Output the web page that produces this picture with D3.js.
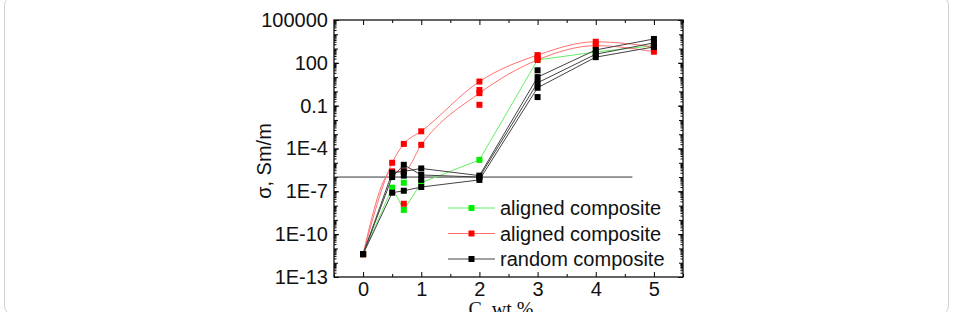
<!DOCTYPE html>
<html>
<head>
<meta charset="utf-8">
<script src="https://cdn.jsdelivr.net/npm/d3@7"></script>
<style>
  body { margin: 0; background: #fff; }
  svg { display: block; font-family: "Liberation Sans", Arial, sans-serif; }
</style>
</head>
<body>
<div class="Chart"></div>
<script>
// ---- data ----
var xTicks = [0, 1, 2, 3, 4, 5];
var xMinorTicks = [-0.5, 0.5, 1.5, 2.5, 3.5, 4.5, 5.5];
var yTickValues = [1e-13, 1e-10, 1e-7, 1e-4, 0.1, 100, 100000];
var yTickLabels = ["1E-13", "1E-10", "1E-7", "1E-4", "0.1", "100", "100000"];

// green: aligned composite (one curve)
var greenCurves = [
  [[0, 4e-12], [0.5, 1.8e-7], [0.7, 5e-9], [1, 4e-7], [2, 1.6e-5], [3, 160], [4, 575], [5, 1600]]
];
var greenExtra = [[0.7, 4e-7]];

// red: aligned composite (two curves)
var redCurves = [
  [[0, 4e-12], [0.5, 1e-5], [0.7, 2.1e-4], [1, 1.6e-3], [2, 4.9], [3, 350], [4, 3000], [5, 1300]],
  [[0, 4e-12], [0.5, 2.5e-6], [0.7, 2.5e-6], [1, 1.8e-4], [2, 0.75], [3, 160], [4, 1600], [5, 600]]
];
var redExtra = [[0.7, 1.35e-8], [2, 1.26], [2, 0.115], [3, 250]];

// black: random composite (three curves)
var blackCurves = [
  [[0, 4e-12], [0.5, 2e-6], [0.7, 2.5e-6], [1, 4e-6], [2, 1.26e-6], [3, 10], [4, 800], [5, 4700]],
  [[0, 4e-12], [0.5, 1e-6], [0.7, 7.2e-6], [1, 1.4e-6], [2, 1e-6], [3, 4], [4, 400], [5, 2500]],
  [[0, 4e-12], [0.5, 8e-8], [0.7, 1.1e-7], [1, 2e-7], [2, 6.3e-7], [3, 1.8], [4, 250], [5, 1300]]
];
var blackExtra = [[3, 30], [3, 0.4], [1, 6.3e-7], [0.7, 1.26e-6]];

// horizontal reference line
var refLine = [[-0.5, 1e-6], [4.63, 1e-6]];

var legendLabels = ["aligned composite", "aligned composite", "random composite"];
var legendColors = ["#00ee00", "#ff0000", "#000000"];
var lineColors = ["#66ee66", "#ff7070", "#444444"];

function drawChart() {
  var width = 953, height = 312;
  var plot = {left: 334, right: 683, top: 20, bottom: 277};

  var svg = d3.select(".Chart").append("svg")
              .attr("width", width)
              .attr("height", height);

  // outer rounded frame
  svg.append("rect")
     .attr("x", 4.5).attr("y", -4.5)
     .attr("width", 944).attr("height", 320)
     .attr("rx", 10).attr("ry", 10)
     .attr("fill", "none")
     .attr("stroke", "#cfcfcf");

  var x = d3.scaleLinear().domain([-0.5, 5.5]).range([plot.left, plot.right]);
  var y = d3.scaleLog().domain([1e-13, 1e5]).range([plot.bottom, plot.top]);

  // y minor ticks (2..9 per decade) and decade ticks
  var yMinor = [], yDecades = [];
  for (var e = -13; e < 5; e++) {
    for (var m = 2; m <= 9; m++) yMinor.push(m * Math.pow(10, e));
  }
  for (var e2 = -13; e2 <= 5; e2++) yDecades.push(Math.pow(10, e2));

  function addAxis(axis, tx, ty, cls) {
    var g = svg.append("g")
               .attr("class", cls)
               .attr("transform", "translate(" + tx + "," + ty + ")")
               .call(axis);
    g.select(".domain").remove();
    g.selectAll("line").attr("stroke", "#000");
    return g;
  }

  // left
  addAxis(d3.axisLeft(y).tickValues(yMinor).tickSize(-2.5).tickFormat(""), plot.left, 0, "ymin");
  addAxis(d3.axisLeft(y).tickValues(yDecades).tickSize(-4).tickFormat(""), plot.left, 0, "ydec");
  var yl = addAxis(d3.axisLeft(y).tickValues(yTickValues).tickSize(-5).tickPadding(6)
                     .tickFormat(function(d, i) { return yTickLabels[i]; }), plot.left, 0, "ylab");
  yl.selectAll("text").attr("font-size", 20).attr("fill", "#111");

  // right
  addAxis(d3.axisRight(y).tickValues(yMinor).tickSize(-2.5).tickFormat(""), plot.right, 0, "yminr");
  addAxis(d3.axisRight(y).tickValues(yDecades).tickSize(-4).tickFormat(""), plot.right, 0, "ydecr");
  addAxis(d3.axisRight(y).tickValues(yTickValues).tickSize(-5).tickFormat(""), plot.right, 0, "ylabr");

  // bottom
  addAxis(d3.axisBottom(x).tickValues(xMinorTicks).tickSize(-3).tickFormat(""), 0, plot.bottom, "xmin");
  var xb = addAxis(d3.axisBottom(x).tickValues(xTicks).tickSize(-5).tickPadding(5)
                     .tickFormat(d3.format("d")), 0, plot.bottom, "xlab");
  xb.selectAll("text").attr("font-size", 20).attr("fill", "#111");

  // top
  addAxis(d3.axisTop(x).tickValues(xMinorTicks).tickSize(-3).tickFormat(""), 0, plot.top, "xmint");
  addAxis(d3.axisTop(x).tickValues(xTicks).tickSize(-5).tickFormat(""), 0, plot.top, "xtop");

  // frame
  svg.append("rect")
     .attr("x", plot.left).attr("y", plot.top)
     .attr("width", plot.right - plot.left).attr("height", plot.bottom - plot.top)
     .attr("fill", "none")
     .attr("stroke", "#111")
     .attr("stroke-width", 1.3);

  // reference line
  svg.append("line")
     .attr("x1", x(refLine[0][0])).attr("y1", y(refLine[0][1]))
     .attr("x2", x(refLine[1][0])).attr("y2", y(refLine[1][1]))
     .attr("stroke", "#333")
     .attr("stroke-width", 1);

  // red curves are smoothed, green and black are nearly straight segments
  var smooth = d3.line()
               .x(function(d) { return x(d[0]); })
               .y(function(d) { return y(d[1]); })
               .curve(d3.curveMonotoneX);
  var straight = d3.line()
               .x(function(d) { return x(d[0]); })
               .y(function(d) { return y(d[1]); });

  var groups = [
    {curves: greenCurves, extra: greenExtra, i: 0, line: straight},
    {curves: redCurves, extra: redExtra, i: 1, line: smooth},
    {curves: blackCurves, extra: blackExtra, i: 2, line: straight}
  ];

  var sq = 6;
  groups.forEach(function(grp) {
    var g = svg.append("g").attr("class", "series" + grp.i);
    g.selectAll("path")
     .data(grp.curves)
     .enter().append("path")
     .attr("d", grp.line)
     .attr("fill", "none")
     .attr("stroke", lineColors[grp.i])
     .attr("stroke-width", 1);

    var pts = [];
    grp.curves.forEach(function(c) { pts = pts.concat(c); });
    pts = pts.concat(grp.extra);

    g.selectAll("rect")
     .data(pts)
     .enter().append("rect")
     .attr("x", function(d) { return x(d[0]) - sq / 2; })
     .attr("y", function(d) { return y(d[1]) - sq / 2; })
     .attr("width", sq)
     .attr("height", sq)
     .attr("fill", legendColors[grp.i]);
  });

  // legend
  var legend = svg.selectAll("g.legend")
                  .data(legendLabels)
                  .enter().append("g")
                  .attr("class", "legend")
                  .attr("transform", function(d, i) { return "translate(448," + (208 + i * 25.5) + ")"; });

  legend.append("line")
        .attr("x1", 0).attr("x2", 47)
        .attr("y1", 0).attr("y2", 0)
        .attr("stroke", function(d, i) { return lineColors[i]; })
        .attr("stroke-width", 1);
  legend.append("rect")
        .attr("x", 23.5 - sq / 2).attr("y", -sq / 2)
        .attr("width", sq).attr("height", sq)
        .attr("fill", function(d, i) { return legendColors[i]; });
  legend.append("text")
        .attr("x", 52)
        .attr("y", 7)
        .attr("font-size", 20)
        .attr("fill", "#111")
        .text(function(d) { return d; });

  // axis titles
  svg.append("text")
     .attr("transform", "translate(271,161) rotate(-90)")
     .attr("text-anchor", "middle")
     .attr("font-size", 20)
     .attr("fill", "#111")
     .text("σ, Sm/m");

  svg.append("text")
     .attr("x", 501)
     .attr("y", 316)
     .attr("text-anchor", "middle")
     .attr("font-family", "'Liberation Serif', 'Times New Roman', serif")
     .attr("font-size", 20)
     .attr("fill", "#111")
     .text("C, wt %");
}

drawChart();
</script>
</body>
</html>
